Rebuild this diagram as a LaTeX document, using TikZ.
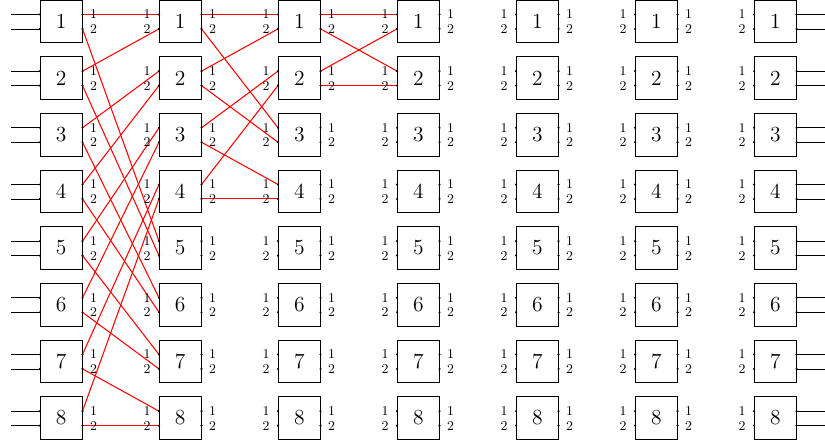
\documentclass[tikz,border=0pt]{standalone}
\usepackage{tikz}
\usetikzlibrary{positioning}

\begin{document}
\begin{tikzpicture}[
    module/.style={draw, minimum width=1cm, minimum height=1cm, inner sep=0pt,
                   outer sep=0pt, font=\Large},
    pinlabel/.style={font=\small, inner sep=0pt},
    link/.style={red, line width=0.7pt},
    wire/.style={black, line width=0.5pt}
]
\useasboundingbox (0,-10.4) rectangle (19.41,0);

% modules and their pins
\foreach \c in {1,...,7} {
  \foreach \r in {1,...,8} {
    \node[module] (m\c-\r) at ({1.441+2.8*(\c-1)}, {-0.5-1.3333*(\r-1)}) {\r};
    \coordinate (m\c-\r-i1) at ([yshift=-0.34cm]m\c-\r.north west);
    \coordinate (m\c-\r-i2) at ([yshift=0.32cm]m\c-\r.south west);
    \coordinate (m\c-\r-o1) at ([yshift=-0.34cm]m\c-\r.north east);
    \coordinate (m\c-\r-o2) at ([yshift=0.32cm]m\c-\r.south east);
  }
}

% stage 1
\foreach \a/\b in {1-o1/1-i1, 1-o2/5-i1, 2-o1/1-i2, 2-o2/5-i2,
                   3-o1/2-i1, 3-o2/6-i1, 4-o1/2-i2, 4-o2/6-i2,
                   5-o1/3-i1, 5-o2/7-i1, 6-o1/3-i2, 6-o2/7-i2,
                   7-o1/4-i1, 7-o2/8-i1, 8-o1/4-i2, 8-o2/8-i2}
  \draw[link] (m1-\a) -- (m2-\b);

% stage 2
\foreach \a/\b in {1-o1/1-i1, 1-o2/3-i1, 2-o1/1-i2, 2-o2/3-i2,
                   3-o1/2-i1, 3-o2/4-i1, 4-o1/2-i2, 4-o2/4-i2}
  \draw[link] (m2-\a) -- (m3-\b);

% stage 3
\foreach \a/\b in {1-o1/1-i1, 1-o2/2-i1, 2-o1/1-i2, 2-o2/2-i2}
  \draw[link] (m3-\a) -- (m4-\b);

% inputs and outputs
\foreach \r in {1,...,8} {
  \foreach \p in {1,2} {
    \coordinate (in\r-\p) at ([xshift=-0.675cm]m1-\r-i\p);
    \coordinate (out\r-\p) at ([xshift=0.675cm]m7-\r-o\p);
    \draw[wire] (in\r-\p) -- (m1-\r-i\p);
    \draw[wire] (m7-\r-o\p) -- (out\r-\p);
  }
}

% pin dots and labels
\foreach \c in {1,...,7} {
  \foreach \r in {1,...,8} {
    \foreach \p in {1,2} {
      \fill (m\c-\r-i\p) circle (0.8pt);
      \fill (m\c-\r-o\p) circle (0.8pt);
      \ifnum\c>1
        \node[pinlabel] (l\c-\r-i\p) at ([xshift=-0.28cm]m\c-\r-i\p) {\p};
      \fi
      \ifnum\c<7
        \node[pinlabel] (l\c-\r-o\p) at ([xshift=0.26cm]m\c-\r-o\p) {\p};
      \fi
    }
  }
}
\end{tikzpicture}
\end{document}
